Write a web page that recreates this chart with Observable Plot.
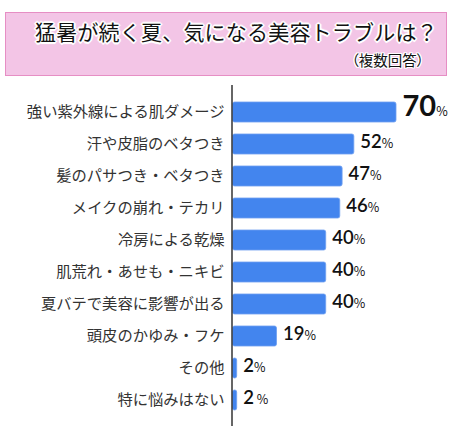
<!DOCTYPE html>
<html><head><meta charset="utf-8">
<script src="https://cdn.jsdelivr.net/npm/d3@7"></script>
<script src="https://cdn.jsdelivr.net/npm/@observablehq/plot@0.6"></script>
<style>
html,body{margin:0;padding:0;background:#fff;width:452px;height:431px;overflow:hidden;position:relative;font-family:"Noto Sans CJK JP",sans-serif;}
#title{position:absolute;left:5px;top:12px;width:440px;height:62px;background:#f3c5e6;border:1.5px solid #e68ec4;}
#title .t{position:absolute;left:29px;top:3px;font-size:21px;font-weight:400;color:#111;letter-spacing:0.2px;white-space:nowrap;
  text-shadow:1.5px 0 0 #fff,-1.5px 0 0 #fff,0 1.5px 0 #fff,0 -1.5px 0 #fff,1px 1px 0 #fff,-1px -1px 0 #fff,1px -1px 0 #fff,-1px 1px 0 #fff,2px 0 1px #fff,-2px 0 1px #fff,0 2px 1px #fff,0 -2px 1px #fff;}
#title .s{position:absolute;right:22px;top:36px;font-size:14.5px;color:#111;white-space:nowrap;font-feature-settings:"palt";
  text-shadow:1.2px 0 0 #fff,-1.2px 0 0 #fff,0 1.2px 0 #fff,0 -1.2px 0 #fff,1px 1px 0 #fff,-1px -1px 0 #fff,1px -1px 0 #fff,-1px 1px 0 #fff;}
#chart{position:absolute;left:0;top:80px;}
</style></head>
<body>
<div id="title"><div class="t"></div><div class="s"></div></div>
<div id="chart"></div>
<script>
const titleText = "猛暑が続く夏、気になる美容トラブルは？";
const subtitleText = "（複数回答）";
const categories = ["強い紫外線による肌ダメージ","汗や皮脂のベタつき","髪のパサつき・ベタつき","メイクの崩れ・テカリ","冷房による乾燥","肌荒れ・あせも・ニキビ","夏バテで美容に影響が出る","頭皮のかゆみ・フケ","その他","特に悩みはない"];
const values = [70,52,47,46,40,40,40,19,2,2];
const data = categories.map((c,i)=>({category:c,value:values[i]}));

document.querySelector("#title .t").textContent = titleText;
document.querySelector("#title .s").textContent = subtitleText;

const plot = Plot.plot({
  width: 452,
  height: 351,
  marginLeft: 232,
  marginRight: 56,
  marginTop: 5,
  marginBottom: 5,
  x: {domain:[0,70], axis:null},
  y: {domain: categories, axis:null, padding:0.38},
  style: {fontFamily:'"Noto Sans CJK JP",sans-serif', background:"#fff"},
  marks: [
    Plot.barX(data, {y:"category", x:"value", fill:"#4385ee", stroke:"#6e9ff0", strokeWidth:0.8, rx:2, insetLeft:0.5}),
    Plot.ruleX([0], {stroke:"#333", strokeWidth:1.5, dx:-0.5}),
    Plot.text(data, {y:"category", frameAnchor:"left", text:"category", textAnchor:"end", dx:-8, fontSize:15.3, fill:"#333", className:"clab"}),
    Plot.text(data, {y:"category", x:"value", text:d=>String(d.value), textAnchor:"start", dx:6, fill:"#111", className:"vlab"})
  ]
});
document.getElementById("chart").appendChild(plot);

d3.select(plot).selectAll("g.vlab text").each(function(d,i){
  const t = d3.select(this);
  const txt = t.text();
  const big = i===0;
  t.text(null);
  t.append("tspan").text(txt)
    .attr("font-family",'Lato,"Open Sans",sans-serif')
    .attr("font-weight", big ? 700 : 600)
    .attr("font-size", big ? 29 : 18.5);
  t.append("tspan").text(i===9 ? " %" : "%")
    .attr("font-family",'"Noto Sans CJK JP",sans-serif')
    .attr("font-size", 12.5);
});
</script>
</body></html>
